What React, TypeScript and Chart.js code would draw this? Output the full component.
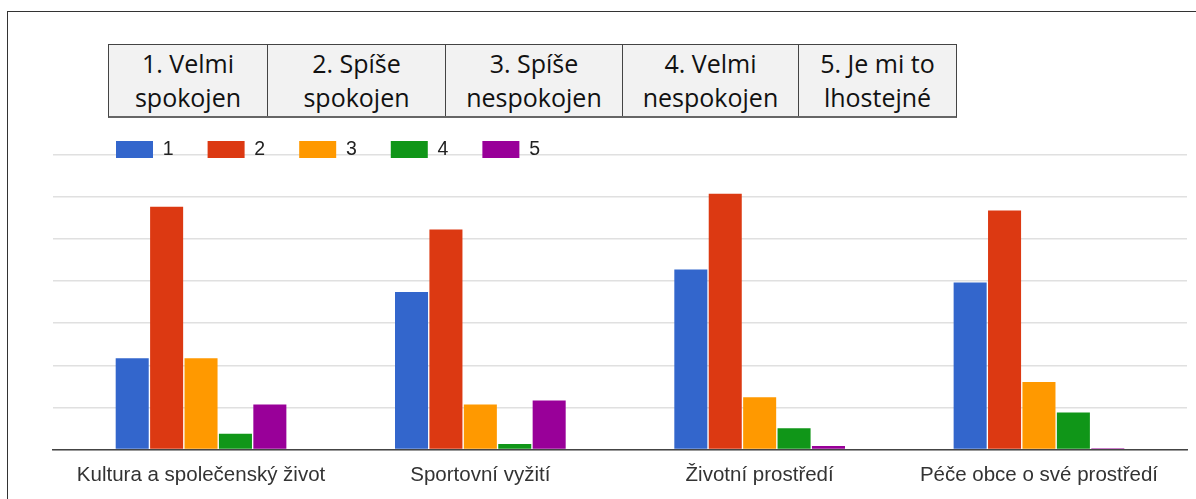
import React, { useEffect, useRef } from 'react';
import { Chart, registerables } from 'chart.js';

Chart.register(...registerables);

const categories = [
  'Kultura a společenský život',
  'Sportovní vyžití',
  'Životní prostředí',
  'Péče obce o své prostředí',
];
const seriesLabels = ['1', '2', '3', '4', '5'];
const series1 = [2.17, 3.74, 4.28, 3.97];
const series2 = [5.77, 5.23, 6.08, 5.68];
const series3 = [2.17, 1.07, 1.24, 1.6];
const series4 = [0.37, 0.13, 0.5, 0.88];
const series5 = [1.07, 1.16, 0.08, 0.03];
const seriesColors = ['#3366cc', '#dc3912', '#ff9900', '#109618', '#990099'];
const tableHeaders = [
  ['1. Velmi', 'spokojen'],
  ['2. Spíše', 'spokojen'],
  ['3. Spíše', 'nespokojen'],
  ['4. Velmi', 'nespokojen'],
  ['5. Je mi to', 'lhostejné'],
];
const yMax = 7;

const allSeries = [series1, series2, series3, series4, series5];
const cellWidths = [158, 178, 177, 176, 158];

const LEGEND_PAD = 34;
const CANVAS_H = 530;

export default function App() {
  const canvasRef = useRef<HTMLCanvasElement | null>(null);

  useEffect(() => {
    const canvas = canvasRef.current;
    if (!canvas) return;
    Chart.defaults.font.family = '"Liberation Sans", Arial, sans-serif';

    const legendPos = {
      id: 'legendPos',
      afterLayout(chart: any) {
        const lg = chart.legend;
        if (lg) {
          const dx = 116 - LEGEND_PAD - lg.left;
          const dy = 139.75 - LEGEND_PAD - lg.top;
          lg.left += dx;
          lg.right += dx;
          lg.top += dy;
          lg.bottom += dy;
        }
      },
    };

    let chart: any = null;
    try {
      chart = new Chart(canvas, {
        type: 'bar',
        data: {
          datasets: allSeries.map((s, i) => ({
            label: seriesLabels[i],
            data: s.map((v, j) => ({ x: j, y: v })),
            backgroundColor: seriesColors[i],
            borderWidth: 0,
            categoryPercentage: 0.616,
            barPercentage: 0.96,
          })),
        },
        options: {
          responsive: false,
          animation: false,
          layout: { padding: { left: 53, right: 9, top: 91.5, bottom: 29 } },
          plugins: {
            tooltip: { enabled: false },
            legend: {
              position: 'top',
              align: 'start',
              labels: {
                boxWidth: 37,
                boxHeight: 17,
                padding: LEGEND_PAD,
                color: '#222',
                font: { size: 19.5 },
              },
            },
          },
          scales: {
            x: {
              type: 'linear',
              min: -0.53,
              max: 3.53,
              offset: false,
              grid: { display: false, drawTicks: false, offset: false },
              border: { display: true, color: '#444', width: 1.6 },
              ticks: {
                stepSize: 1,
                includeBounds: false,
                autoSkip: false,
                maxRotation: 0,
                padding: 13.5,
                color: '#333',
                font: { size: 20.5 },
                callback: (v: any) => categories[v] ?? '',
              },
            },
            y: {
              min: 0,
              max: yMax,
              grid: { color: '#e0e0e0', lineWidth: 1.5, drawTicks: false },
              border: { display: false },
              ticks: { display: false, stepSize: 1 },
            },
          },
        },
        plugins: [legendPos],
      } as any);
    } catch (e) {
      console.error(e);
    }

    return () => {
      if (chart) chart.destroy();
    };
  }, []);

  return (
    <div
      style={{
        position: 'absolute',
        left: 0,
        top: 0,
        width: 1196,
        height: 499,
        overflow: 'hidden',
        background: '#fff',
      }}
    >
      <div
        style={{
          position: 'absolute',
          left: 7,
          top: 11,
          width: 1200,
          height: 500,
          borderLeft: '1px solid #333',
          borderTop: '1px solid #333',
        }}
      />
      <canvas
        ref={canvasRef}
        width={1196}
        height={CANVAS_H}
        style={{ position: 'absolute', left: 0, top: 0, width: 1196, height: CANVAS_H }}
      />
      <div
        style={{
          position: 'absolute',
          left: 108,
          top: 44,
          width: 849,
          height: 74,
          boxSizing: 'border-box',
          display: 'flex',
          border: '1px solid #444',
          borderBottom: '2px solid #666',
          background: '#f2f2f2',
          fontFamily: '"Open Sans", sans-serif',
          fontSize: 25,
          lineHeight: '33.4px',
          color: '#111',
        }}
      >
        {tableHeaders.map((h, i) => (
          <div
            key={i}
            style={{
              width: cellWidths[i],
              boxSizing: 'border-box',
              borderLeft: i === 0 ? 'none' : '1px solid #444',
              display: 'flex',
              alignItems: 'center',
              justifyContent: 'center',
              textAlign: 'center',
              whiteSpace: 'nowrap',
            }}
          >
            <div>
              {h[0]}
              <br />
              {h[1]}
            </div>
          </div>
        ))}
      </div>
    </div>
  );
}
